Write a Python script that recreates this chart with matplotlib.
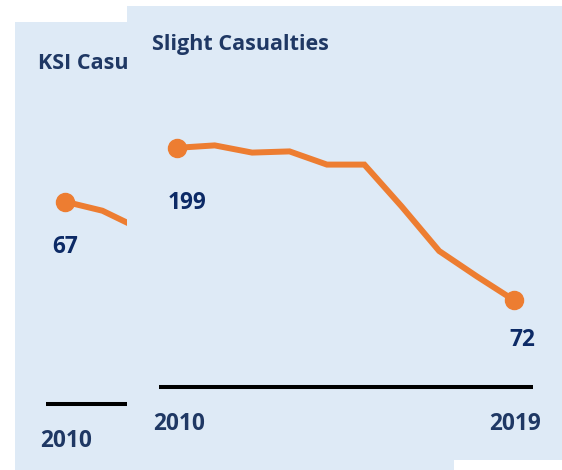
import matplotlib
matplotlib.use("Agg")
import matplotlib.pyplot as plt

# ---- data ----
years = list(range(2010, 2020))
slight_values = [199, 201, 195, 196, 185, 185, 150, 113, 92, 72]
ksi_years = [2010, 2011, 2012]
ksi_values = [67, 64, 58]
slight_title = "Slight Casualties"
ksi_title = "KSI Casualties"

# ---- style ----
W, H = 562, 470
BG = "#DEEAF6"
ORANGE = "#ED7D31"
TITLE_C = "#1F3864"
LABEL_C = "#0C2A66"
FONT = ["Open Sans", "DejaVu Sans"]
FS_T = 15.5
FS = 16.3

fig = plt.figure(figsize=(W / 100, H / 100), dpi=100)
fig.patch.set_facecolor("white")


def panel(left, top, width, height, x_first_px, px_per_year, zero_px, px_per_unit):
    ax = fig.add_axes([left / W, (H - top - height) / H, width / W, height / H])
    ax.set_facecolor(BG)
    for s in ax.spines.values():
        s.set_visible(False)
    ax.set_xticks([])
    ax.set_yticks([])
    xmin = 2010 - (x_first_px - left) / px_per_year
    ax.set_xlim(xmin, xmin + width / px_per_year)
    ymax = (zero_px - top) / px_per_unit
    ax.set_ylim(ymax - height / px_per_unit, ymax)
    return ax


# ---- back panel (KSI) ----
axb = panel(15, 22, 439, 448, 65, 37.41, 404, 3.02)
axb.plot([years[0] - 0.5, years[-1] + 0.5], [0, 0], color="black", lw=2.9,
         solid_capstyle="butt")
axb.plot(ksi_years, ksi_values, color=ORANGE, lw=4.3, solid_joinstyle="miter")
axb.plot(ksi_years[0], ksi_values[0], "o", color=ORANGE, ms=13)
axb.text((38.3 - 15) / 439, 1 - (69.3 - 22) / 448, ksi_title, transform=axb.transAxes,
         ha="left", va="baseline", fontsize=FS_T, fontweight="bold", color=TITLE_C, family=FONT)
axb.annotate(str(ksi_values[0]), (ksi_years[0], ksi_values[0]), xytext=(0, -51.6),
             textcoords="offset pixels", ha="center", va="baseline", fontsize=FS,
             fontweight="bold", color=LABEL_C, family=FONT)
axb.annotate(str(years[0]), (years[0], 0), xytext=(1.5, -42.7), textcoords="offset pixels",
             ha="center", va="baseline", fontsize=FS, fontweight="bold", color=TITLE_C,
             family=FONT)

# ---- front panel (Slight) ----
axf = panel(127, 6, 435, 454, 177.3, 37.41, 386.6, 1.2)
axf.plot([years[0] - 0.5, years[-1] + 0.5], [0, 0], color="black", lw=2.9,
         solid_capstyle="butt")
axf.plot(years, slight_values, color=ORANGE, lw=4.3, solid_joinstyle="miter")
axf.plot([years[0], years[-1]], [slight_values[0], slight_values[-1]], "o", color=ORANGE, ms=13)
axf.text((152.3 - 127) / 435, 1 - (50 - 6) / 454, slight_title, transform=axf.transAxes,
         ha="left", va="baseline", fontsize=FS_T, fontweight="bold", color=TITLE_C, family=FONT)
axf.annotate(str(slight_values[0]), (years[0], slight_values[0]), xytext=(9.4, -61),
             textcoords="offset pixels", ha="center", va="baseline", fontsize=FS,
             fontweight="bold", color=LABEL_C, family=FONT)
axf.annotate(str(slight_values[-1]), (years[-1], slight_values[-1]), xytext=(8.7, -45.3),
             textcoords="offset pixels", ha="center", va="baseline", fontsize=FS,
             fontweight="bold", color=LABEL_C, family=FONT)
for yr in (years[0], years[-1]):
    axf.annotate(str(yr), (yr, 0), xytext=(1.5, -43), textcoords="offset pixels",
                 ha="center", va="baseline", fontsize=FS, fontweight="bold", color=TITLE_C,
                 family=FONT)

fig.savefig("out.png", dpi=100, facecolor=fig.get_facecolor())
